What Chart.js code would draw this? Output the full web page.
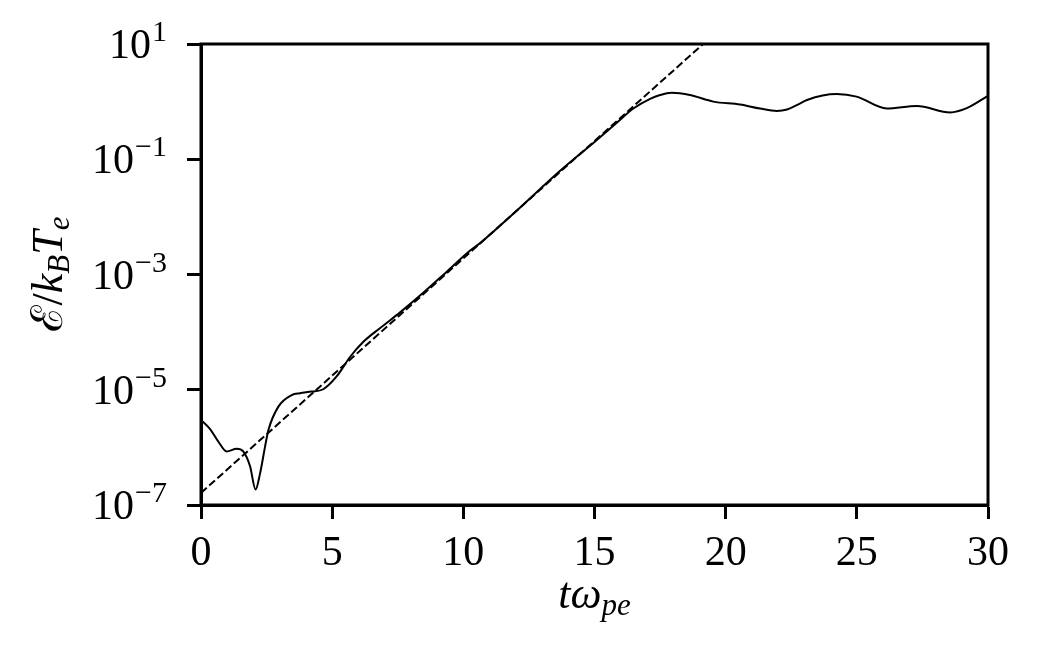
<!DOCTYPE html>
<html>
<head>
<meta charset="utf-8">
<script src="https://cdn.jsdelivr.net/npm/chart.js"></script>
<style>
body{margin:0;background:#fff}
canvas{display:block}
</style>
</head>
<body>
<canvas id="energyChart" width="1038" height="655"></canvas>
<script>
// simulation curve
const tValues=[0,0.34,0.66,0.98,1.36,1.61,1.87,2.08,2.25,2.44,2.57,2.95,3.46,3.77,4.22,4.66,5.17,5.68,6.19,6.82,7.59,8.47,9.37,10.26,10.64,12,13.69,15,15.85,16.48,17.12,17.5,17.94,18.64,19.53,20.55,21.31,21.95,22.34,22.71,23.1,24.23,24.99,26.14,27.29,28.56,29.19,30]
const energyValues=[3.0e-6,2.1e-6,1.26e-6,8.5e-7,9.5e-7,8.5e-7,4.7e-7,1.86e-7,3.5e-7,1.02e-6,2.0e-6,5.1e-6,8.1e-6,8.7e-6,9.3e-6,1.02e-5,1.7e-5,3.7e-5,6.8e-5,1.17e-4,2.2e-4,4.8e-4,1.12e-3,2.6e-3,3.5e-3,1.24e-2,6.3e-2,0.2,0.43,0.76,1.12,1.3,1.42,1.3,1.0,0.89,0.76,0.69,0.73,0.87,1.07,1.35,1.22,0.76,0.84,0.65,0.77,1.26]

// exponential growth fit (dashed)
const fitT=[0,19.14]
const fitEnergy=[1.62e-7,10]

const xTicks=[0,5,10,15,20,25,30]
const yExponents=[-7,-5,-3,-1,1]

const serif='"Liberation Serif", "DejaVu Serif", serif'

const curve=tValues.map((t,i)=>({x:t,y:energyValues[i]}))
const fit=fitT.map((t,i)=>({x:t,y:fitEnergy[i]}))

const labelPlugin={
id:"labels",
afterDraw(chart){
const c=chart.ctx
const xs=chart.scales.x
const ys=chart.scales.y
const area=chart.chartArea
c.save()
c.strokeStyle="#000"
c.lineWidth=3
c.strokeRect(area.left,area.top,area.right-area.left,area.bottom-area.top)
c.fillStyle="#000"
c.textBaseline="alphabetic"

// x tick labels
c.font="42px "+serif
c.textAlign="center"
xTicks.forEach(v=>{
c.fillText(String(v),xs.getPixelForValue(v),565)
})

// y tick labels 10^e
c.textAlign="left"
const right=167
yExponents.forEach(e=>{
const y=ys.getPixelForValue(Math.pow(10,e))
const ex=(e<0?"\u2212":"")+Math.abs(e)
c.font="30px "+serif
const ew=c.measureText(ex).width
c.font="42px "+serif
const bw=c.measureText("10").width
c.fillText("10",right-ew-bw-1,y+14)
c.font="30px "+serif
c.fillText(ex,right-ew,y-3)
})

// x title  t omega_pe
const xParts=[["tω","italic 44px "+serif,0],["pe","italic 31px "+serif,7]]
let total=0
xParts.forEach(p=>{c.font=p[1];total+=c.measureText(p[0]).width})
let px=(area.left+area.right)/2-total/2
xParts.forEach(p=>{
c.font=p[1]
c.fillText(p[0],px,608+p[2])
px+=c.measureText(p[0]).width
})

// y title  E/k_B T_e
const yParts=[["\u2130","44px "+serif,0],["/","44px "+serif,0],["k","italic 44px "+serif,0],["B","italic 31px "+serif,7],["T","italic 44px "+serif,0],["e","italic 31px "+serif,7]]
total=0
yParts.forEach(p=>{c.font=p[1];total+=c.measureText(p[0]).width})
c.translate(62,(area.top+area.bottom)/2)
c.rotate(-Math.PI/2)
px=-total/2
yParts.forEach(p=>{
c.font=p[1]
c.fillText(p[0],px,p[2])
px+=c.measureText(p[0]).width
})
c.restore()
}
}

new Chart(document.getElementById("energyChart"),{
type:"line",
data:{
datasets:[{
data:curve,
borderColor:"#000",
borderWidth:2,
pointRadius:0,
cubicInterpolationMode:"monotone",
fill:false
},{
data:fit,
borderColor:"#000",
borderWidth:2,
borderDash:[7.7,3.3],
pointRadius:0,
fill:false
}]
},
options:{
responsive:false,
animation:false,
devicePixelRatio:1,
layout:{padding:{top:44,right:50,left:0,bottom:0}},
plugins:{legend:{display:false},tooltip:{enabled:false}},
scales:{
x:{
type:"linear",
min:0,
max:30,
afterBuildTicks:s=>{s.ticks=xTicks.map(v=>({value:v}))},
afterFit:s=>{s.height=150},
ticks:{display:false},
grid:{drawOnChartArea:false,drawTicks:true,tickLength:14,tickWidth:3,tickColor:"#000"},
border:{display:true,color:"#000",width:3}
},
y:{
type:"logarithmic",
min:1e-7,
max:10,
afterBuildTicks:s=>{s.ticks=yExponents.map(e=>({value:Math.pow(10,e)}))},
afterFit:s=>{s.width=201},
ticks:{display:false},
grid:{drawOnChartArea:false,drawTicks:true,tickLength:14,tickWidth:3,tickColor:"#000"},
border:{display:true,color:"#000",width:3}
}
}
},
plugins:[labelPlugin]
})
</script>
</body>
</html>
